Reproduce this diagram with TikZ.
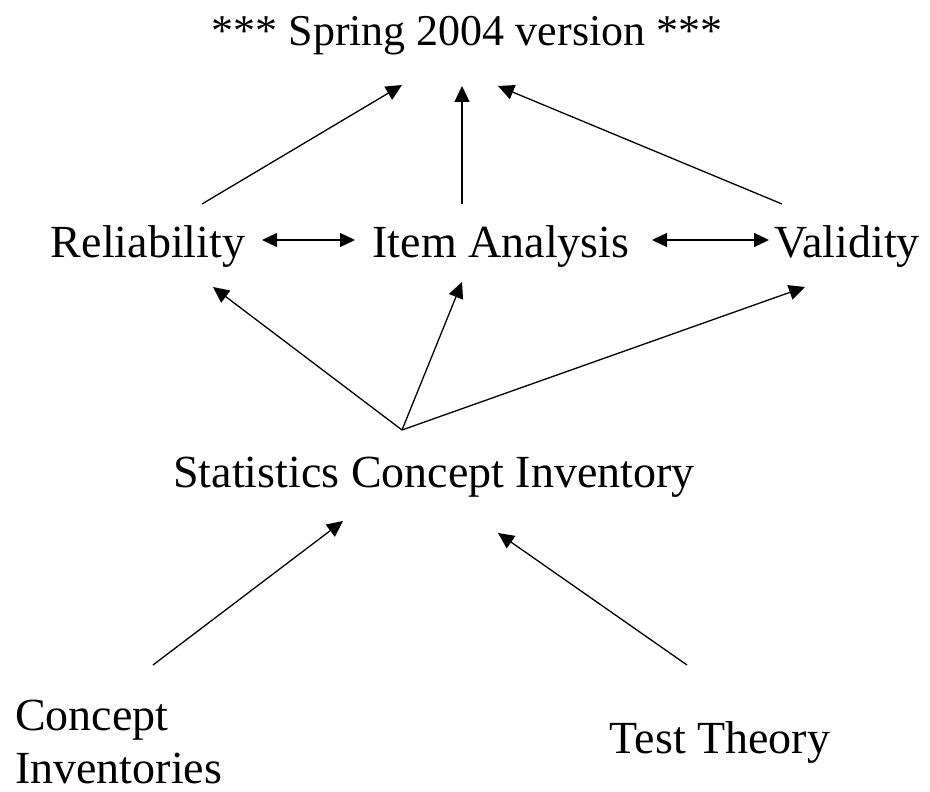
\documentclass[tikz,border=0pt]{standalone}
\usepackage{fontspec}
\setmainfont{Liberation Serif}
\usetikzlibrary{arrows.meta}
\tikzset{
  lbl/.style={inner sep=0pt, font=\fontsize{46}{53}\selectfont},
  arr/.style={line width=1.3pt, -{Triangle[length=16pt,width=15pt]}},
  darr/.style={line width=1.3pt, {Triangle[length=15pt,width=14pt]}-{Triangle[length=15pt,width=14pt]}}
}
\begin{document}
\begin{tikzpicture}[x=1pt, y=-1pt]
      \useasboundingbox (0,0) rectangle (930,792);
      \node[lbl, anchor=base, font=\fontsize{44}{53}\selectfont] (title) at (467,46) {*** Spring 2004 version ***};
      \node[lbl, anchor=base] (rel) at (148,257) {Reliability};
      \node[lbl, anchor=base] (item) at (501,257) {Item Analysis};
      \node[lbl, anchor=base] (val) at (847,257) {Validity};
      \node[lbl, anchor=base] (sci) at (434,487) {Statistics Concept Inventory};
      \node[lbl, anchor=base west, align=left] (ci) at (15,783) {Concept\\Inventories};
      \node[lbl, anchor=base] (tt) at (720,753) {Test Theory};
      % to the top
      \draw[arr] ([shift={(54,-53)}]rel.base) -- ([shift={(-65,39)}]title.base);
      \draw[arr] ([shift={(-39,-53)}]item.base) -- ([shift={(-5,40)}]title.base);
      \draw[arr] ([shift={(-65,-53)}]val.base) -- ([shift={(31,40)}]title.base);
      % middle row
      \draw[darr] ([shift={(114,-17)}]rel.base) -- ([shift={(-146,-17)}]item.base);
      \draw[darr] ([shift={(151,-17)}]item.base) -- ([shift={(-78,-17)}]val.base);
      % from the inventory
      \draw[arr] ([shift={(-32,-57)}]sci.base) -- ([shift={(65,30)}]rel.base);
      \draw[arr] ([shift={(-32,-57)}]sci.base) -- ([shift={(-39,25)}]item.base);
      \draw[arr] ([shift={(-32,-57)}]sci.base) -- ([shift={(-42,30)}]val.base);
      % from the bottom
      \draw[arr] ([shift={(138,-118)}]ci.base west) -- ([shift={(-91,34)}]sci.base);
      \draw[arr] ([shift={(-33,-88)}]tt.base) -- ([shift={(64,46)}]sci.base);
\end{tikzpicture}
\end{document}
